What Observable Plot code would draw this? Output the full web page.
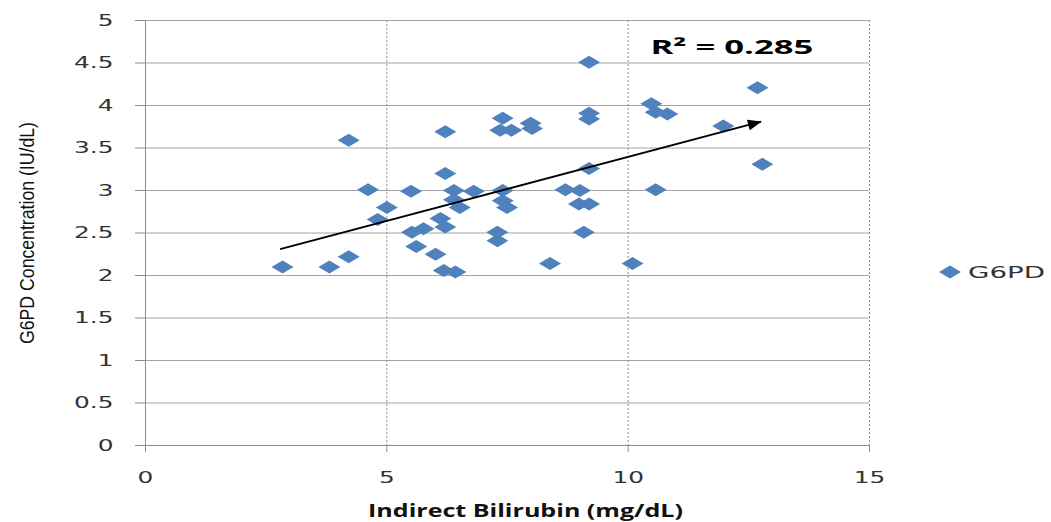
<!DOCTYPE html>
<html>
<head>
<meta charset="utf-8">
<script src="https://cdn.jsdelivr.net/npm/d3@7"></script>
<script src="https://cdn.jsdelivr.net/npm/@observablehq/plot@0.6"></script>
<style>
  body { margin: 0; background: white; }
  #wrap { position: relative; width: 1051px; height: 522px; }
  #legend { position: absolute; left: 936px; top: 258px; }
</style>
</head>
<body>
<div id="wrap"></div>
<script>
// ---- data ----
const bilirubin = [2.84, 3.81, 4.21, 4.21, 4.61, 5.00, 4.81, 5.50, 5.52, 5.76, 5.61, 6.01, 6.18, 6.42,
  6.21, 6.21, 6.11, 6.21, 6.39, 6.39, 6.51, 6.80, 7.40, 7.35, 7.58, 7.40, 7.40, 7.49, 7.29, 7.29,
  9.19, 12.68, 10.48, 10.57, 10.81, 9.19, 9.19, 7.98, 8.01, 11.97, 12.78, 9.19, 8.70, 9.00, 8.98,
  9.19, 10.57, 9.08, 8.38, 10.09];
const g6pd = [2.10, 2.10, 2.22, 3.59, 3.01, 2.80, 2.66, 2.99, 2.51, 2.55, 2.34, 2.25, 2.06, 2.04,
  3.69, 3.20, 2.67, 2.57, 3.00, 2.89, 2.80, 2.99, 3.85, 3.71, 3.71, 3.00, 2.88, 2.80, 2.51, 2.41,
  4.51, 4.21, 4.02, 3.92, 3.90, 3.91, 3.84, 3.79, 3.73, 3.76, 3.31, 3.26, 3.01, 3.00, 2.84,
  2.84, 3.01, 2.51, 2.14, 2.14];
const trendStart = [2.79, 2.31];
const trendEnd = [12.75, 3.81];
const rLabel = ["R² = 0.285"];
const rLabelPos = [12.15, 4.68];
const xTicks = [0, 5, 10, 15];
const xGrid = [5, 10, 15];
const yTicks = [0, 0.5, 1, 1.5, 2, 2.5, 3, 3.5, 4, 4.5, 5];
const xTitle = "Indirect Bilirubin (mg/dL)";
const yTitle = "G6PD Concentration (IU/dL)";
const seriesName = "G6PD";

const points = bilirubin.map((x, i) => ({x, y: g6pd[i]}));
const arrow = [{x1: trendStart[0], y1: trendStart[1], x2: trendEnd[0], y2: trendEnd[1]}];
const rData = [{x: rLabelPos[0], y: rLabelPos[1], text: rLabel[0]}];

const wideDiamond = {draw(ctx) { const w = 11, h = 6.5; ctx.moveTo(0, -h); ctx.lineTo(w, 0); ctx.lineTo(0, h); ctx.lineTo(-w, 0); ctx.closePath(); }};
const triHead = {draw(ctx) { ctx.moveTo(1, 0); ctx.lineTo(-13, -5.5); ctx.lineTo(-13, 5.5); ctx.closePath(); }};

const chart = Plot.plot({
  width: 1051, height: 522,
  marginLeft: 145, marginRight: 182, marginTop: 20, marginBottom: 77,
  style: {background: "white", fontFamily: "DejaVu Sans", fontSize: "16px", color: "#404040"},
  x: {domain: [0, 15]},
  y: {domain: [0, 5]},
  marks: [
    Plot.gridY(yTicks, {stroke: "#a4a4a4", strokeOpacity: 1}),
    Plot.gridX(xGrid, {stroke: "#8c8c8c", strokeOpacity: 1, strokeDasharray: "2,2"}),
    Plot.ruleX([0], {stroke: "#8c8c8c"}),
    Plot.ruleY([0], {stroke: "#8c8c8c"}),
    Plot.axisY(yTicks, {tickSize: 10, tickPadding: 22, stroke: "#8c8c8c", fill: "#333",
      tickFormat: d => String(d), label: yTitle, labelAnchor: "center", labelArrow: "none", labelOffset: 126}),
    Plot.axisX(xTicks, {tickSize: 7, tickPadding: 19, stroke: "#8c8c8c", fill: "#333",
      tickFormat: d => String(d), label: xTitle, labelAnchor: "center", labelArrow: "none", labelOffset: 71}),
    Plot.dot(points, {x: "x", y: "y", symbol: wideDiamond, fill: "#4F81BD", stroke: "none"}),
    Plot.link(arrow, {x1: "x1", y1: "y1", x2: "x2", y2: "y2", stroke: "black", strokeWidth: 2}),
    Plot.dot(arrow, {x: "x2", y: "y2", symbol: triHead, fill: "black", stroke: "none", rotate: -15}),
    Plot.text(rData, {x: "x", y: "y", text: "text", fontWeight: "bold", fontSize: 20, fill: "black", fontFamily: "Open Sans"})
  ]
});

document.getElementById("wrap").append(chart);

const svg = d3.select(chart.tagName.toLowerCase() === "svg" ? chart : chart.querySelector("svg"));
function stretch(sel, factor, fixed) {
  sel.each(function() {
    const L = this.getComputedTextLength();
    this.setAttribute("textLength", fixed ? fixed : L * factor);
    this.setAttribute("lengthAdjust", "spacingAndGlyphs");
  });
}
stretch(svg.selectAll('[aria-label="y-axis tick label"] text, [aria-label="x-axis tick label"] text'), 1.55);

const yl = svg.selectAll('[aria-label="y-axis label"] text')
  .attr("font-family", "Liberation Sans").attr("font-size", 20).attr("fill", "#111");
stretch(yl, 1, 222);

const xlg = svg.select('[aria-label="x-axis label"]');
const xlt = xlg.attr("transform");
xlg.attr("transform", (xlt ? xlt + " " : "") + "translate(18,0)");
const xl = xlg.selectAll("text").attr("font-family", "Open Sans").attr("font-weight", "bold")
  .attr("font-size", 17).attr("fill", "#111");
stretch(xl, 1, 315);

stretch(svg.selectAll('[aria-label="text"] text'), 1, 163);

// legend
const lg = d3.select("#wrap").append("div").attr("id", "legend")
  .append("svg").attr("width", 115).attr("height", 30);
lg.append("path").attr("d", "M14,7.5L25,14L14,20.5L3,14Z").attr("fill", "#4F81BD");
const lt = lg.append("text").attr("x", 32).attr("y", 19.5).attr("font-family", "DejaVu Sans")
  .attr("font-size", 15).attr("fill", "#333").text(seriesName);
stretch(lt, 1, 77);
</script>
</body>
</html>
